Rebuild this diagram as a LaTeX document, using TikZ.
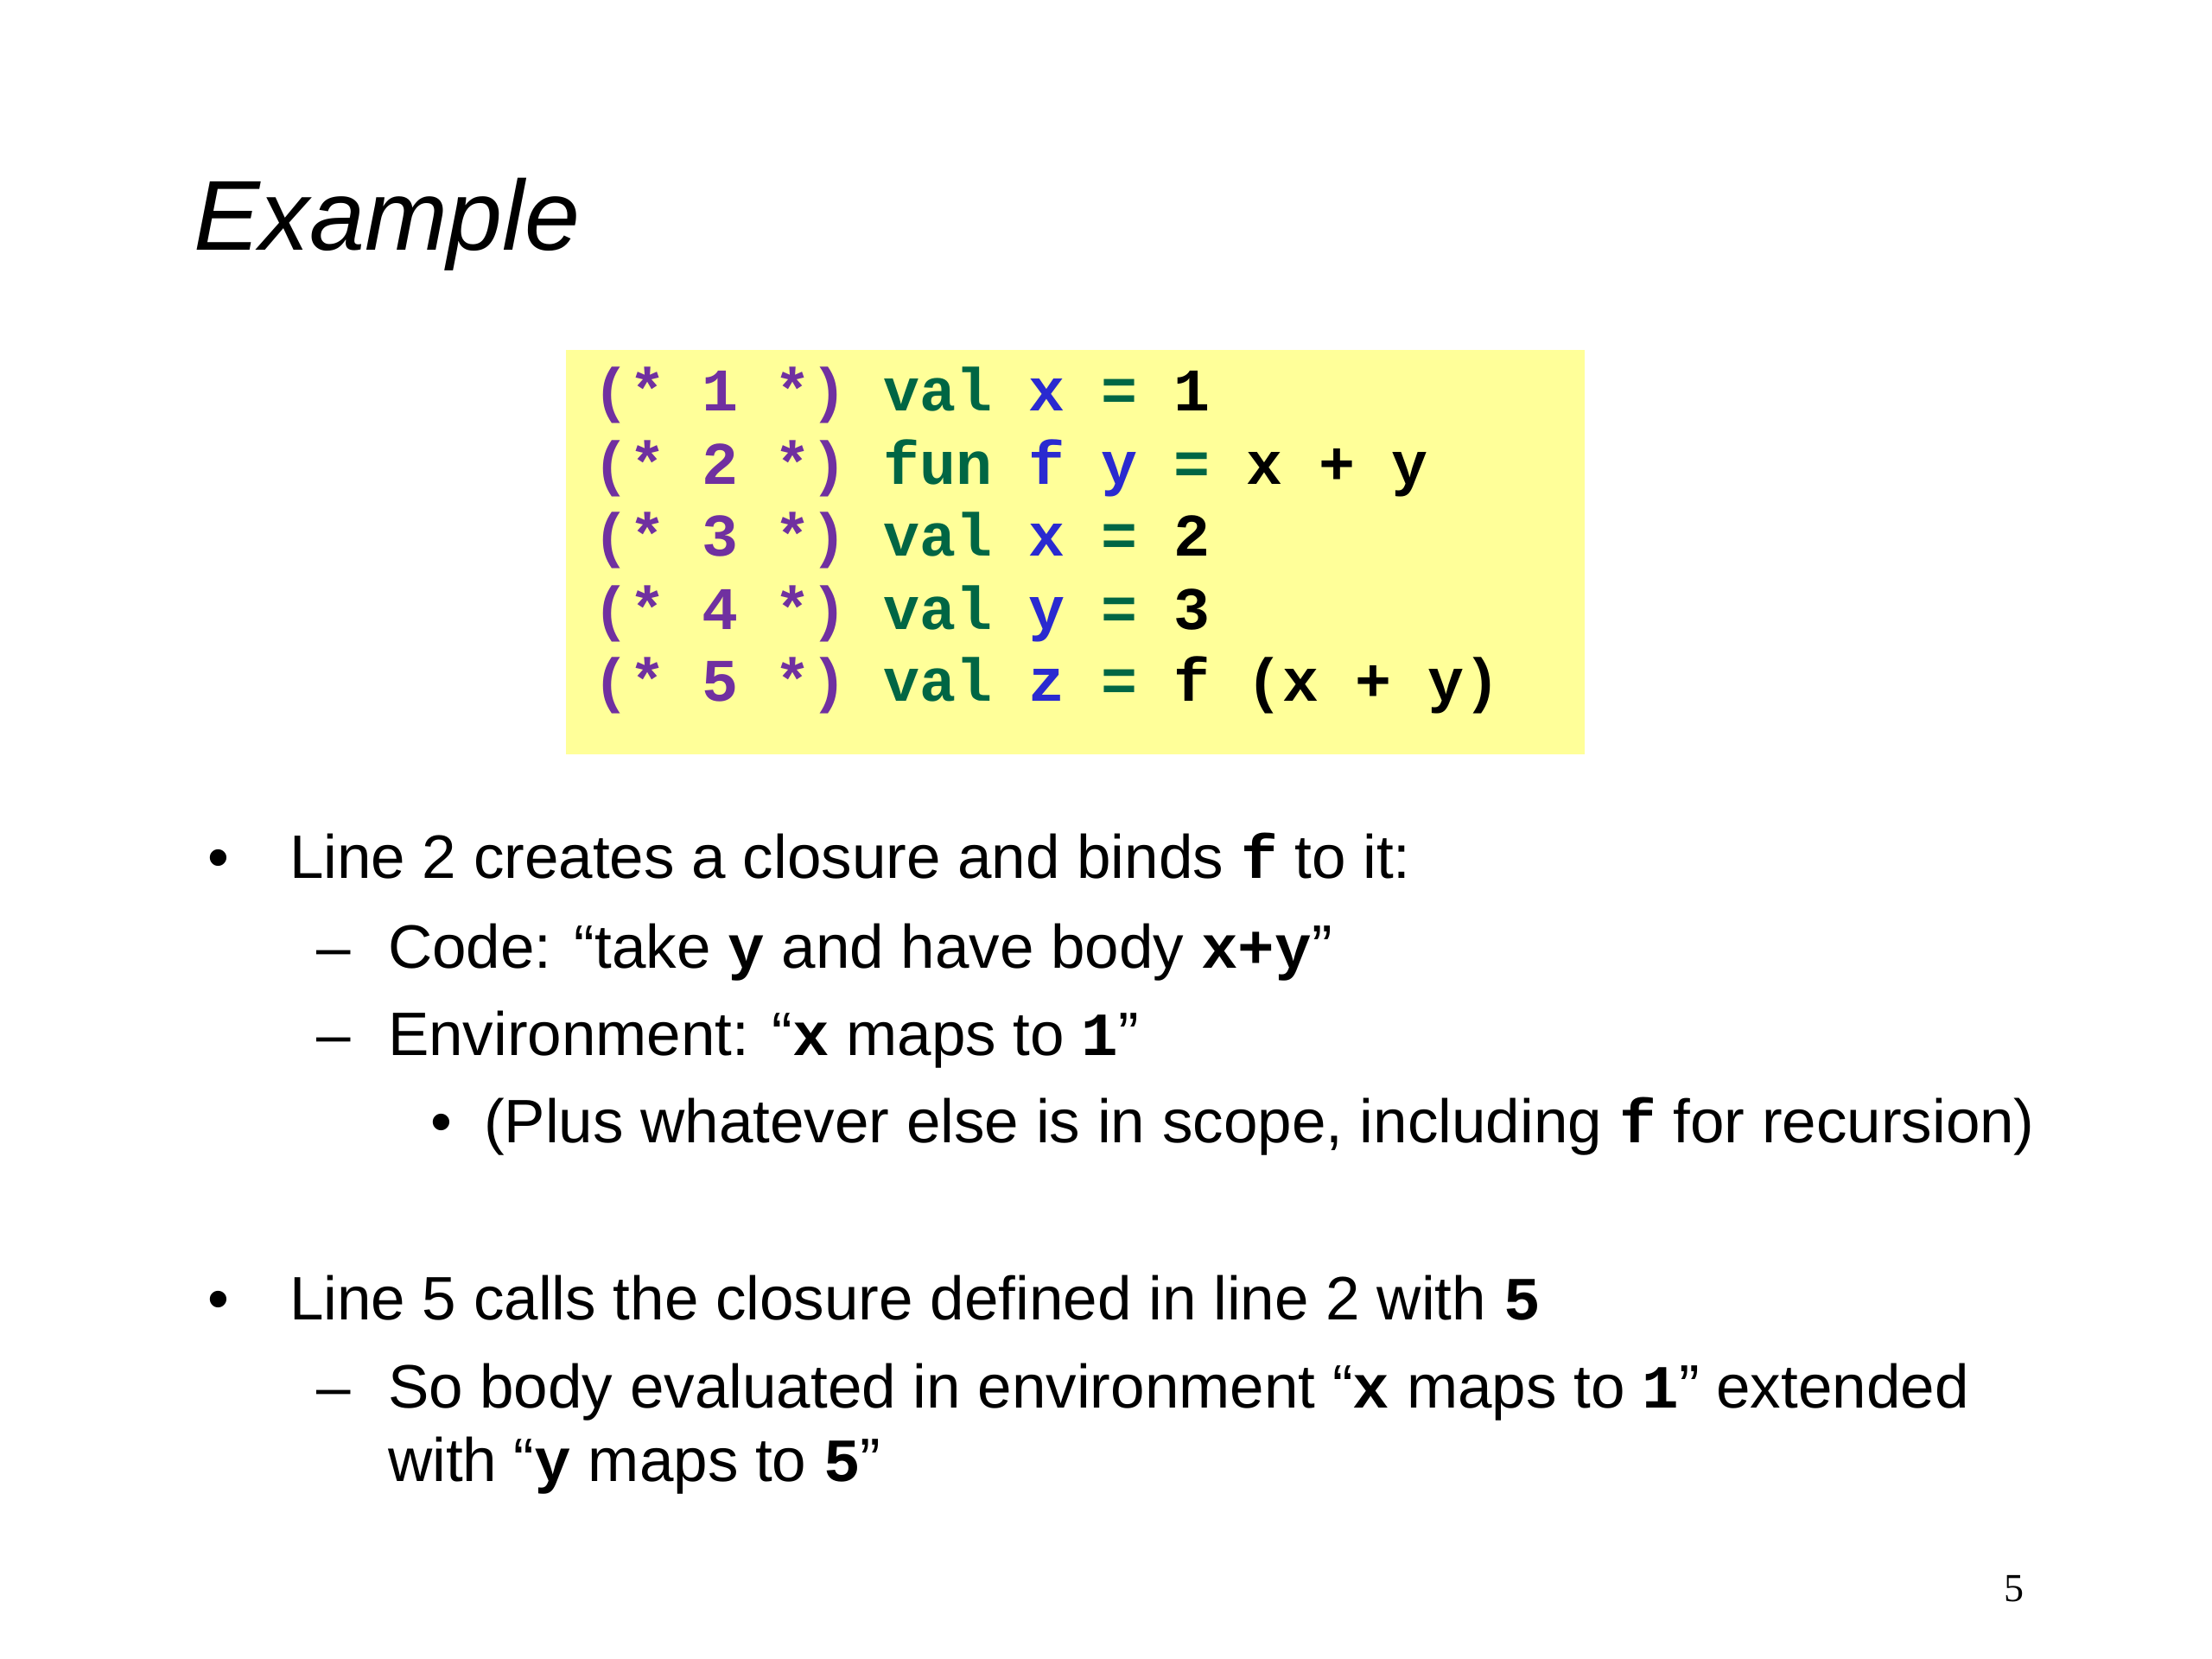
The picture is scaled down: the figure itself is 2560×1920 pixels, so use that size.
\documentclass[tikz,border=0pt]{standalone}
\usepackage{fontspec}
\setmainfont{Liberation Sans}
\setmonofont{Liberation Mono}
\newfontfamily\pgserif{Liberation Serif}
\definecolor{codebg}{HTML}{FFFF99}
\definecolor{compurple}{HTML}{7030A0}
\definecolor{kwgreen}{HTML}{006644}
\definecolor{idblue}{HTML}{2A2AD0}
\newcommand\cCom[1]{{\color{compurple}#1}}
\newcommand\cKw[1]{{\color{kwgreen}#1}}
\newcommand\cId[1]{{\color{idblue}#1}}
\newcommand\cd[1]{{\ttfamily\bfseries #1}}
\begin{document}
\begin{tikzpicture}[x=1pt,y=-1pt,
  every node/.style={inner sep=0pt,outer sep=0pt},
  titletext/.style={anchor=base west,font=\fontsize{115}{130}\selectfont\itshape},
  codeline/.style={anchor=base west,font=\fontsize{70}{84}\selectfont\ttfamily\bfseries},
  bodytext/.style={anchor=base west,font=\fontsize{71}{86}\selectfont},
  bulletmark/.style={anchor=base west,font=\fontsize{71}{86}\selectfont},
  pagenum/.style={anchor=base east,font=\fontsize{46}{50}\selectfont\pgserif}]
\fill[white] (0,0) rectangle (2560,1920);
\useasboundingbox (0,0) rectangle (2560,1920);
% title
\node[titletext] (title) at (224,289) {Example};
% code box
\fill[codebg] (655,405) rectangle (1834,873);
\node[codeline] (c1) at (686,475) {\cCom{(* 1 *)} \cKw{val} \cId{x} \cKw{=} 1};
\node[codeline] (c2) at (686,560) {\cCom{(* 2 *)} \cKw{fun} \cId{f} \cId{y} \cKw{=} x + y};
\node[codeline] (c3) at (686,643) {\cCom{(* 3 *)} \cKw{val} \cId{x} \cKw{=} 2};
\node[codeline] (c4) at (686,728) {\cCom{(* 4 *)} \cKw{val} \cId{y} \cKw{=} 3};
\node[codeline] (c5) at (686,811) {\cCom{(* 5 *)} \cKw{val} \cId{z} \cKw{=} f (x + y)};
% bullets
\node[bulletmark] (b1) at (240,1016) {•};
\node[bodytext] (t1) at (335,1016) {Line 2 creates a closure and binds \cd{f} to it:};
\node[bulletmark] (d1) at (366,1120) {–};
\node[bodytext] (t2) at (449,1120) {Code: “take \cd{y} and have body \cd{x+y}”};
\node[bulletmark] (d2) at (366,1221) {–};
\node[bodytext] (t3) at (449,1221) {Environment: “\cd{x} maps to \cd{1}”};
\node[bulletmark] (b2) at (498,1322) {•};
\node[bodytext] (t4) at (560,1322) {(Plus whatever else is in scope, including \cd{f} for recursion)};
\node[bulletmark] (b3) at (240,1527) {•};
\node[bodytext] (t5) at (335,1527) {Line 5 calls the closure defined in line 2 with \cd{5}};
\node[bulletmark] (d3) at (366,1629) {–};
\node[bodytext] (t6) at (449,1629) {So body evaluated in environment “\cd{x} maps to \cd{1}” extended};
\node[bodytext] (t7) at (449,1714) {with “\cd{y} maps to \cd{5}”};
% page number
\node[pagenum] (pg) at (2342,1853) {5};
\end{tikzpicture}
\end{document}
